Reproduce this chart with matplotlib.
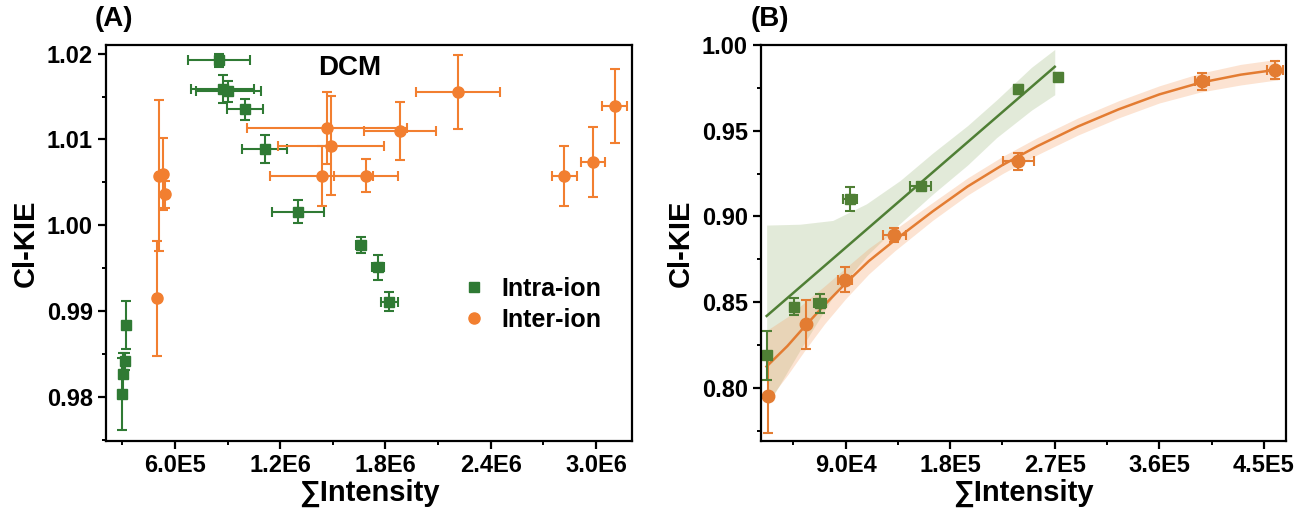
import matplotlib
matplotlib.use('Agg')
import matplotlib.pyplot as plt
from matplotlib.lines import Line2D
import numpy as np

plt.rcParams['font.family'] = ['Liberation Sans', 'DejaVu Sans']
plt.rcParams['font.weight'] = 'bold'

# (A) DCM: intra-ion (зелёные квадраты)
intra_a_x = [8.51e5, 8.72e5, 9.04e5, 9.99e5, 1.113e6, 1.301e6, 1.658e6, 1.759e6, 1.822e6,
             3.21e5, 3.15e5, 3.05e5, 2.96e5]
intra_a_y = [1.0192, 1.0159, 1.0156, 1.0135, 1.0089, 1.0016, 0.9977, 0.9951, 0.9911,
             0.9884, 0.9842, 0.9827, 0.9804]
intra_a_xerr = [1.77e5, 1.8e5, 1.85e5, 1.05e5, 1.28e5, 1.47e5, 2.5e4, 3.5e4, 5.0e4,
                5e3, 5e3, 5e3, 5e3]
intra_a_yerr = [0.0008, 0.0016, 0.0012, 0.0012, 0.0016, 0.0013, 0.0009, 0.0015, 0.0011,
                0.0028, 0.0010, 0.0025, 0.0042]

# (A) DCM: inter-ion (оранжевые круги)
inter_a_x = [4.95e5, 5.1e5, 5.32e5, 5.43e5, 1.465e6, 1.488e6, 1.436e6, 1.689e6, 1.883e6,
             2.215e6, 2.818e6, 2.985e6, 3.108e6]
inter_a_y = [0.9915, 1.0058, 1.0060, 1.0036, 1.0113, 1.0093, 1.0057, 1.0058, 1.0110,
             1.0155, 1.0058, 1.0074, 1.0139]
inter_a_xerr = [8e3, 1.2e4, 1.2e4, 1.2e4, 4.56e5, 3.03e5, 2.95e5, 1.82e5, 2.04e5,
                2.39e5, 7.1e4, 6.9e4, 7.1e4]
inter_a_yerr = [0.0067, 0.0088, 0.0042, 0.0016, 0.0042, 0.0058, 0.0035, 0.0019, 0.0034,
                0.0043, 0.0035, 0.0041, 0.0043]

# (B)
intra_b_x = [2.21e4, 4.59e4, 6.8e4, 9.38e4, 1.547e5, 2.388e5, 2.724e5]
intra_b_y = [0.8192, 0.8474, 0.8494, 0.9103, 0.9175, 0.9744, 0.9814]
intra_b_xerr = [1.5e3, 3e3, 5e3, 6.3e3, 9.2e3, 3e3, 3e3]
intra_b_yerr = [0.0143, 0.005, 0.0055, 0.007, 0.002, 0.002, 0.002]

inter_b_x = [2.3e4, 5.6e4, 8.95e4, 1.32e5, 2.388e5, 3.967e5, 4.598e5]
inter_b_y = [0.7953, 0.8373, 0.863, 0.8892, 0.9321, 0.9788, 0.9853]
inter_b_xerr = [1.5e3, 2e3, 5.7e3, 1.0e4, 1.36e4, 5.7e3, 7e3]
inter_b_yerr = [0.0216, 0.0143, 0.0073, 0.004, 0.005, 0.0049, 0.0053]

# аппроксимации и доверительные полосы
intra_fit_x = [2.21e4, 2.70e5]
intra_fit_y = [0.842, 0.9873]
intra_band_x = [2.21e4, 5.08e4, 7.9e4, 1.08e5, 1.37e5, 1.65e5, 1.95e5, 2.2e5, 2.5e5, 2.70e5]
intra_band_lo = [0.789, 0.822, 0.853, 0.877, 0.896, 0.913, 0.930, 0.946, 0.962, 0.971]
intra_band_hi = [0.895, 0.8955, 0.8977, 0.9074, 0.921, 0.937, 0.953, 0.968, 0.987, 0.9974]

inter_fit_x = [2.2e4, 4.0e4, 5.5e4, 7.2e4, 9.0e4, 1.1e5, 1.32e5, 1.65e5, 1.95e5, 2.25e5,
               2.55e5, 2.9e5, 3.25e5, 3.6e5, 3.95e5, 4.3e5, 4.62e5]
inter_fit_y = [0.8125, 0.8245, 0.836, 0.8485, 0.861, 0.874, 0.886, 0.903, 0.9175, 0.930,
               0.941, 0.9525, 0.9625, 0.9712, 0.978, 0.9827, 0.9857]
inter_band_half = [0.021, 0.017, 0.014, 0.011, 0.009, 0.0075, 0.0062, 0.0052, 0.005, 0.005,
                   0.005, 0.005, 0.005, 0.005, 0.0055, 0.006, 0.006]

xticks_a = [6e5, 1.2e6, 1.8e6, 2.4e6, 3.0e6]
xlabels_a = ['6.0E5', '1.2E6', '1.8E6', '2.4E6', '3.0E6']
yticks_a = [0.98, 0.99, 1.00, 1.01, 1.02]
xticks_b = [9e4, 1.8e5, 2.7e5, 3.6e5, 4.5e5]
xlabels_b = ['9.0E4', '1.8E5', '2.7E5', '3.6E5', '4.5E5']
yticks_b = [0.80, 0.85, 0.90, 0.95, 1.00]

GREEN_A = '#2f7a34'
ORANGE_A = '#f27f30'
GREEN_B = '#4f7f35'
ORANGE_B = '#e37c32'

fig = plt.figure(figsize=(12.99, 5.12), dpi=100)
ax1 = fig.add_axes([0.0816, 0.1387, 0.4049, 0.7734])
ax2 = fig.add_axes([0.5858, 0.1387, 0.4042, 0.7734])

eb = dict(capsize=3.5, elinewidth=1.5, capthick=1.5, linestyle='none')

# (A)
ax1.errorbar(intra_a_x, intra_a_y, xerr=intra_a_xerr, yerr=intra_a_yerr, fmt='s',
             color=GREEN_A, ms=7, **eb)
ax1.errorbar(inter_a_x, inter_a_y, xerr=inter_a_xerr, yerr=inter_a_yerr, fmt='o',
             color=ORANGE_A, ms=8, **eb)
ax1.set_xlim(2.07e5, 3.205e6)
ax1.set_ylim(0.9749, 1.0210)
ax1.set_xticks(xticks_a)
ax1.set_xticklabels(xlabels_a)
ax1.set_yticks(yticks_a)
ax1.set_yticklabels(['%.2f' % v for v in yticks_a])
ax1.set_xticks([3e5, 9e5, 1.5e6, 2.1e6, 2.7e6], minor=True)
ax1.set_yticks([0.975, 0.985, 0.995, 1.005, 1.015], minor=True)
ax1.text(0.464, 0.942, 'DCM', transform=ax1.transAxes, fontsize=20, fontweight='bold',
         ha='center', va='center')
handles = [Line2D([], [], marker='s', color=GREEN_A, ls='none', ms=7),
           Line2D([], [], marker='o', color=ORANGE_A, ls='none', ms=8)]
ax1.legend(handles, ['Intra-ion', 'Inter-ion'], loc='upper left', bbox_to_anchor=(0.676, 0.415),
           frameon=False, handlelength=1, handletextpad=0.6, borderpad=0,
           borderaxespad=0, labelspacing=0.3, prop={'weight': 'bold', 'size': 18})

# (B)
ax2.fill_between(intra_band_x, intra_band_lo, intra_band_hi, color='#8fae6a', alpha=0.25, lw=0)
inter_lo = np.array(inter_fit_y) - np.array(inter_band_half)
inter_hi = np.array(inter_fit_y) + np.array(inter_band_half)
ax2.fill_between(inter_fit_x, inter_lo, inter_hi, color='#f6a46a', alpha=0.3, lw=0)
ax2.plot(inter_fit_x, inter_fit_y, color=ORANGE_B, lw=1.8)
ax2.plot(intra_fit_x, intra_fit_y, color=GREEN_B, lw=1.8)
ax2.errorbar(inter_b_x, inter_b_y, xerr=inter_b_xerr, yerr=inter_b_yerr, fmt='o',
             color=ORANGE_B, ms=9, **eb)
ax2.errorbar(intra_b_x, intra_b_y, xerr=intra_b_xerr, yerr=intra_b_yerr, fmt='s',
             color=GREEN_B, ms=7.5, **eb)
ax2.set_xlim(1.72e4, 4.69e5)
ax2.set_ylim(0.7691, 1.0)
ax2.set_xticks(xticks_b)
ax2.set_xticklabels(xlabels_b)
ax2.set_yticks(yticks_b)
ax2.set_yticklabels(['%.2f' % v for v in yticks_b])
ax2.set_xticks([4.5e4, 1.35e5, 2.25e5, 3.15e5, 4.05e5], minor=True)
ax2.set_yticks([0.775, 0.825, 0.875, 0.925, 0.975], minor=True)

for ax in (ax1, ax2):
    for s in ax.spines.values():
        s.set_linewidth(1.6)
    ax.tick_params(which='major', direction='out', length=6, width=1.6, labelsize=17)
    ax.tick_params(which='minor', direction='out', length=3, width=1.4)
    ax.tick_params(top=False, right=False)
    for lab in ax.get_xticklabels() + ax.get_yticklabels():
        lab.set_fontweight('bold')
    ax.set_xlabel('\u2211Intensity', fontsize=21, fontweight='bold', labelpad=1)
    ax.set_ylabel('Cl-KIE', fontsize=21, fontweight='bold', labelpad=5)

fig.text(0.073, 0.963, '(A)', fontsize=20, fontweight='bold', ha='left', va='center')
fig.text(0.578, 0.963, '(B)', fontsize=20, fontweight='bold', ha='left', va='center')

fig.savefig('out.png', dpi=100)
